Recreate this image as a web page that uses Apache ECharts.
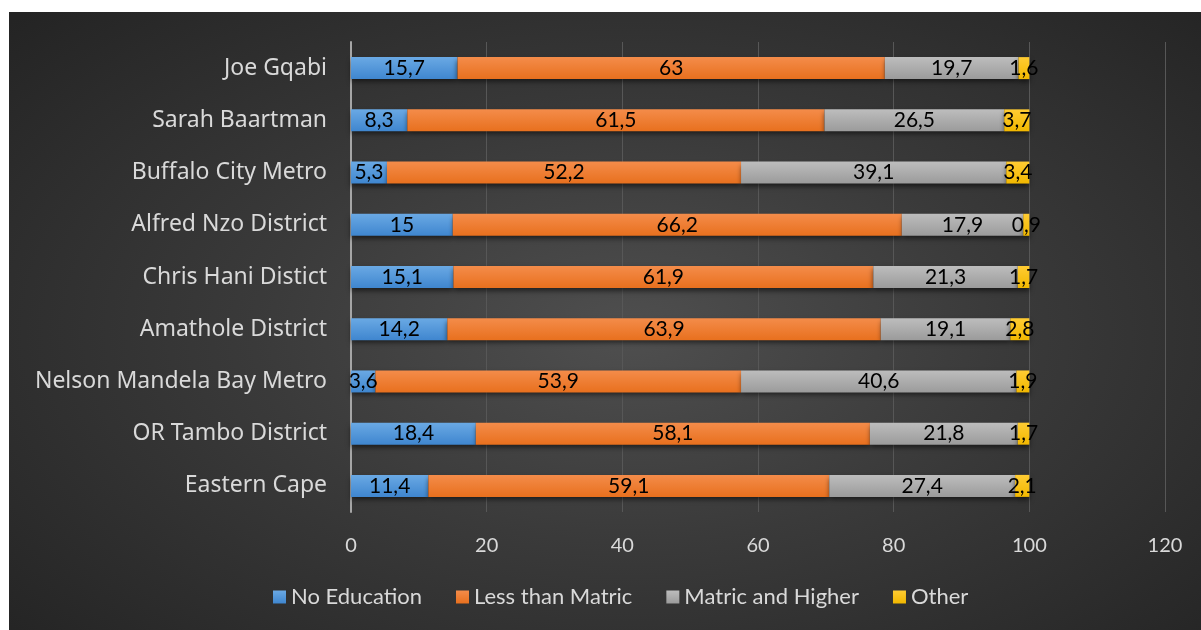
<!DOCTYPE html>
<html>
<head>
<meta charset="utf-8">
<script src="https://cdn.jsdelivr.net/npm/echarts@6/dist/echarts.min.js"></script>
<style>
  html, body { margin: 0; padding: 0; background: #ffffff; }
  #chart {
    position: absolute; left: 9px; top: 12px; width: 1192px; height: 618px;
    background: radial-gradient(ellipse 70% 75% at 52% 52%, #4f4f4f 0%, #3a3a3a 45%, #242424 100%);
  }
</style>
</head>
<body>
<div id="chart"></div>
<script>
// Districts of the Eastern Cape, listed top to bottom
const categories = [
  'Joe Gqabi', 'Sarah Baartman', 'Buffalo City Metro', 'Alfred Nzo District',
  'Chris Hani Distict', 'Amathole District', 'Nelson Mandela Bay Metro',
  'OR Tambo District', 'Eastern Cape'
];
// Share of population (%) by highest level of education
const noEducation     = [15.7, 8.3, 5.3, 15, 15.1, 14.2, 3.6, 18.4, 11.4];
const lessThanMatric  = [63, 61.5, 52.2, 66.2, 61.9, 63.9, 53.9, 58.1, 59.1];
const matricAndHigher = [19.7, 26.5, 39.1, 17.9, 21.3, 19.1, 40.6, 21.8, 27.4];
const other           = [1.6, 3.7, 3.4, 0.9, 1.7, 2.8, 1.9, 1.7, 2.1];
const xTicks = [0, 20, 40, 60, 80, 100, 120];

const seriesNames = ['No Education', 'Less than Matric', 'Matric and Higher', 'Other'];
const seriesData = [noEducation, lessThanMatric, matricAndHigher, other];
const fills = [
  ['#6aa9e4', '#3f86cf'],
  ['#f48c4a', '#e8701e'],
  ['#bdbdbd', '#9b9b9b'],
  ['#ffcc33', '#f2b800']
];

const chart = echarts.init(document.getElementById('chart'), null, { renderer: 'canvas' });

const series = seriesNames.map((name, i) => ({
  name,
  type: 'bar',
  stack: 'total',
  barWidth: 22,
  data: seriesData[i],
  itemStyle: {
    color: new echarts.graphic.LinearGradient(0, 0, 0, 1, [
      { offset: 0, color: fills[i][0] },
      { offset: 1, color: fills[i][1] }
    ]),
    shadowColor: 'rgba(0,0,0,0.55)',
    shadowBlur: 5,
    shadowOffsetY: 3
  },
  label: {
    show: true,
    position: 'inside',
    color: '#000000',
    fontFamily: 'Lato',
    fontSize: 21,
    formatter: p => String(p.value).replace('.', ',')
  },
  emphasis: { disabled: true }
}));

chart.setOption({
  animation: false,
  backgroundColor: 'transparent',
  grid: { left: 342, right: 36, top: 30, bottom: 118, containLabel: false },
  legend: {
    bottom: 17,
    left: 259,
    itemWidth: 13,
    itemHeight: 13,
    itemGap: 34,
    icon: 'rect',
    textStyle: { color: '#d9d9d9', fontFamily: 'Lato', fontSize: 22 },
    data: seriesNames
  },
  xAxis: {
    type: 'value',
    min: 0,
    max: 120,
    interval: 20,
    axisLine: { show: false },
    axisTick: { show: false },
    splitLine: { lineStyle: { color: '#575757', width: 1 } },
    axisLabel: {
      color: '#d9d9d9', fontFamily: 'Lato', fontSize: 20, margin: 24,
      formatter: v => xTicks.includes(v) ? String(v) : ''
    }
  },
  yAxis: {
    type: 'category',
    inverse: true,
    data: categories,
    axisLine: { show: true, lineStyle: { color: '#a6a6a6', width: 2 } },
    axisTick: { show: false },
    axisLabel: {
      color: '#d9d9d9', fontFamily: '"Noto Sans"', fontSize: 23, margin: 24
    }
  },
  series
});
</script>
</body>
</html>
